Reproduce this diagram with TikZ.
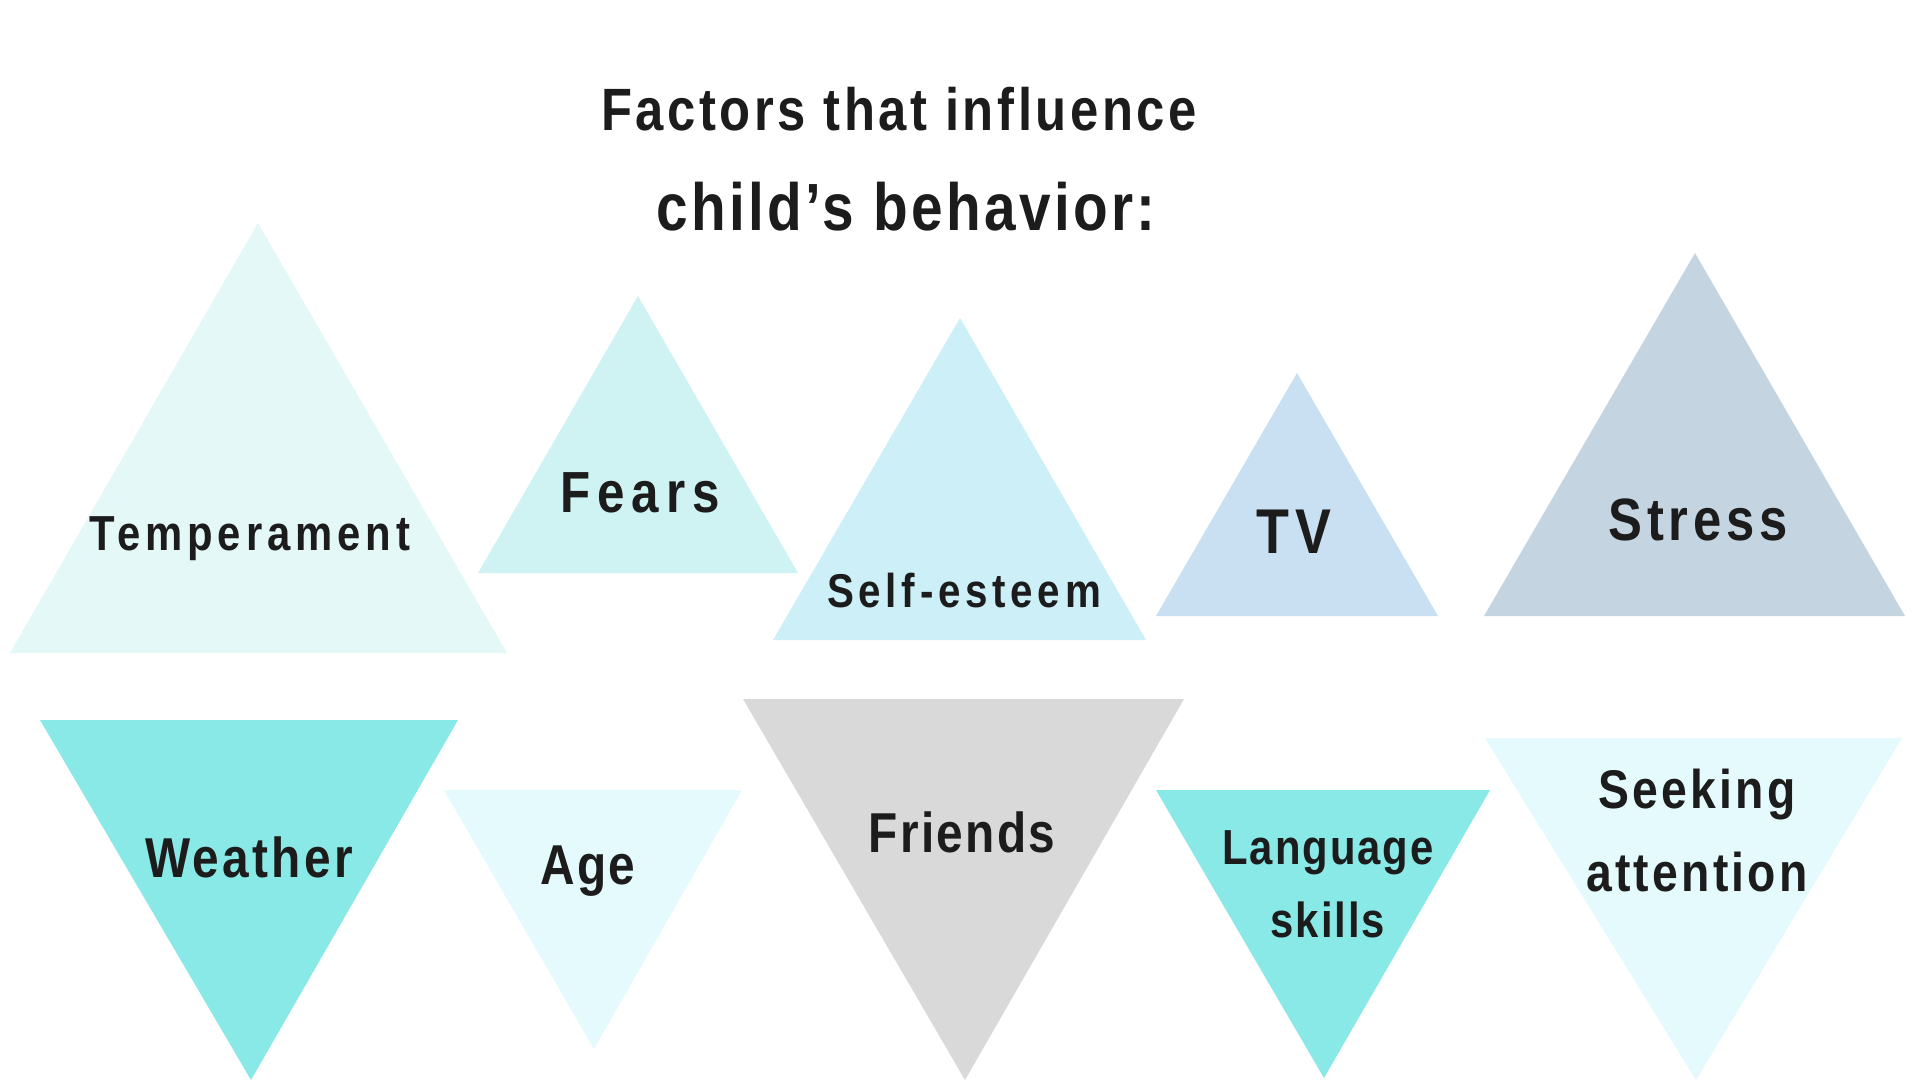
\documentclass[tikz,border=0pt]{standalone}
\usepackage{fontspec}
\setmainfont{Liberation Sans}
\newfontfamily\narrowfont[FakeStretch=0.85]{Liberation Sans}

\definecolor{ink}{HTML}{1C1C1C}
\definecolor{paletemp}{HTML}{E5F8F8}
\definecolor{fearcol}{HTML}{CFF2F2}
\definecolor{selfcol}{HTML}{CCEFF8}
\definecolor{tvcol}{HTML}{C8E0F2}
\definecolor{stresscol}{HTML}{C4D5E1}
\definecolor{aqua}{HTML}{88E9E7}
\definecolor{paleaqua}{HTML}{E4FAFC}
\definecolor{friendcol}{HTML}{D9D9D9}

\begin{document}
\begin{tikzpicture}[x=0.1mm, y=-0.1mm,
  word/.style n args={3}{font=\narrowfont\bfseries\fontsize{#1}{#2}\selectfont\addfontfeature{LetterSpace=#3},
    text=ink, anchor=base, inner sep=0pt, align=center}
]
  % Page
  \fill[white] (0,0) rectangle (1920,1080);
  \useasboundingbox (0,0) rectangle (1920,1080);

  % Title
  \node[word={17}{20}{6}] (title1) at (899,130) {Factors that influence};
  \node[word={19}{22}{5}] (title2) at (906,230) {child’s behavior:};

  % Top row
  \fill[paletemp] (258,223) -- (507,653) -- (10,653) -- cycle;
  \fill[fearcol] (638,296) -- (798,573) -- (478,573) -- cycle;
  \fill[selfcol] (960,318) -- (1146,640) -- (773,640) -- cycle;
  \fill[tvcol] (1297,373) -- (1438,616) -- (1156,616) -- cycle;
  \fill[stresscol] (1695,253) -- (1905,616) -- (1484,616) -- cycle;

  \node[word={14}{17}{10}] (temper) at (250,550) {Temperament};
  \node[word={16.5}{19}{12}] (fears) at (640,512) {Fears};
  \node[word={13.5}{16}{10}] (selfest) at (964,607) {Self-esteem};
  \node[word={18}{21}{10}] (tv) at (1294,553) {TV};
  \node[word={17}{20}{8}] (stress) at (1698,540) {Stress};

  % Bottom row
  \fill[aqua] (40,720) -- (458,720) -- (251,1080) -- cycle;
  \fill[paleaqua] (444,790) -- (742,790) -- (594,1049) -- cycle;
  \fill[friendcol] (743,699) -- (1184,699) -- (965,1080) -- cycle;
  \fill[aqua] (1156,790) -- (1490,790) -- (1324,1078) -- cycle;
  \fill[paleaqua] (1485,738) -- (1902,738) -- (1696,1080) -- cycle;

  \node[word={16}{19}{6}] (weather) at (249,877) {Weather};
  \node[word={16}{19}{4}] (age) at (588,884) {Age};
  \node[word={16}{19}{4}] (friends) at (962,852) {Friends};
  \node[word={14}{20.5}{4}] (lang) at (1328,937) {Language\\skills};
  \node[word={15.5}{23.5}{6}] (seek) at (1697,891) {Seeking\\attention};
\end{tikzpicture}
\end{document}
